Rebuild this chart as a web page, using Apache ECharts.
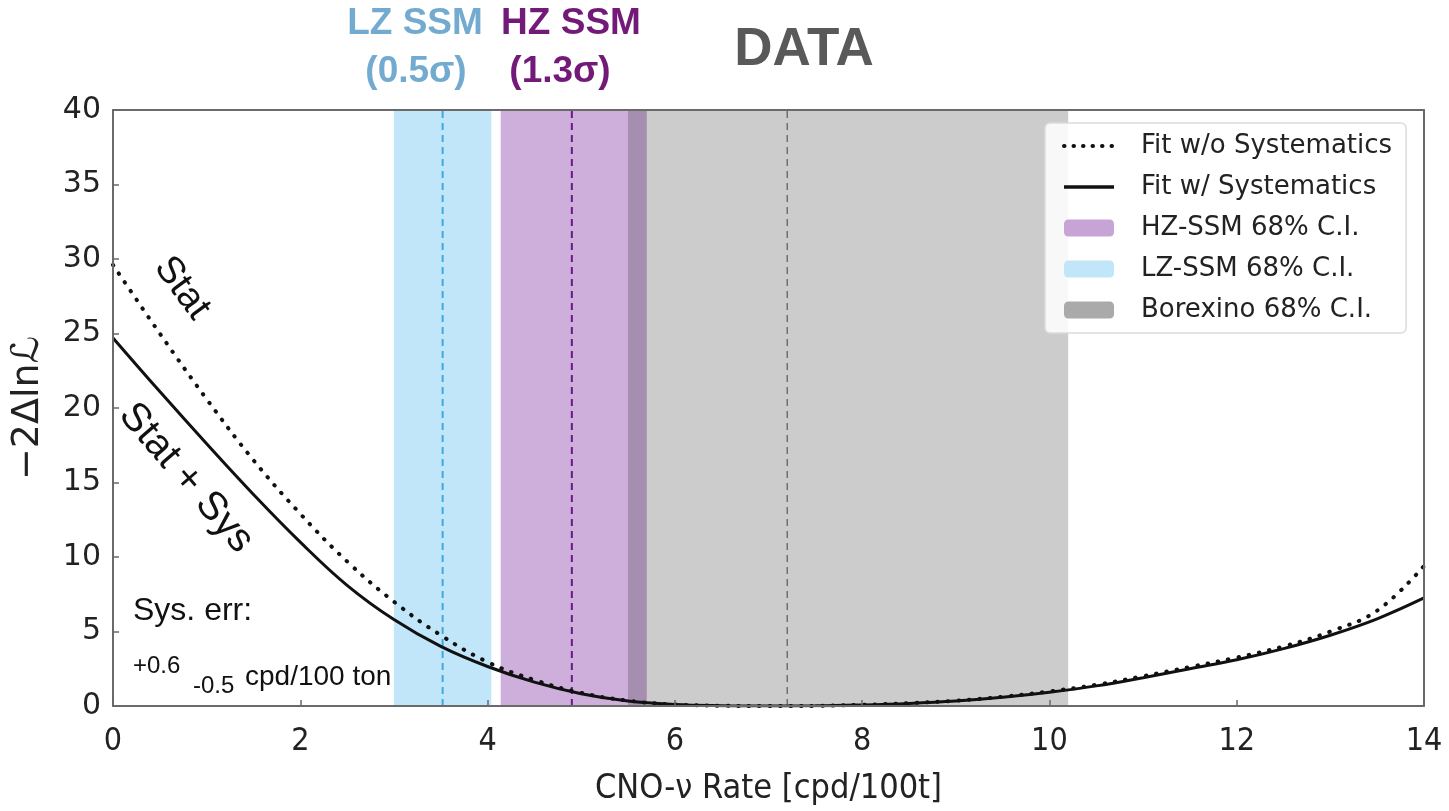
<!DOCTYPE html>
<html><head><meta charset="utf-8">
<script src="https://cdn.jsdelivr.net/npm/echarts@6/dist/echarts.min.js"></script>
<style>html,body{margin:0;padding:0;background:#fff}#c{width:1449px;height:811px}</style>
</head><body><div id="c"></div>
<script>
// ---- data ----
const rate = [0,0.5,1,1.5,2,2.5,3,3.5,4,4.5,5,5.5,6,6.5,7,7.5,8,8.5,9,9.5,10,10.5,11,11.5,12,12.5,13,13.5,14];
const fitNoSys   = [29.6,25.0,20.6,16.5,12.9,9.7,7.0,4.75,2.95,1.75,0.88,0.36,0.1,0.02,0,0.01,0.08,0.19,0.36,0.62,0.98,1.42,2.0,2.62,3.25,4.0,5.0,6.4,9.4];
const fitWithSys = [24.7,21.1,17.6,14.2,11.0,8.1,5.8,4.0,2.65,1.6,0.82,0.33,0.1,0.02,0,0.01,0.07,0.17,0.33,0.58,0.92,1.35,1.9,2.5,3.1,3.85,4.75,5.85,7.25];
const lzBand = [3.0, 4.04];
const hzBand = [4.14, 5.70];
const bxBand = [5.5, 10.2];
const lzCentral = 3.52;
const hzCentral = 4.9;
const bxCentral = 7.2;
const xTicks = [0, 14, 2];   // min, max, interval
const yTicks = [0, 40, 5];
const seriesNames = ['Fit w/o Systematics','Fit w/ Systematics','HZ-SSM 68% C.I.','LZ-SSM 68% C.I.','Borexino 68% C.I.'];

const chart = echarts.init(document.getElementById('c'), null, {renderer:'canvas'});

function bandSeries(name, band, color, z, legendColor){
  return {
    name, type:'custom', z, silent:true,
    itemStyle:{color: legendColor},
    encode:{x:[0,1], y:[2,3]},
    data:[[band[0], band[1], yTicks[0], yTicks[1]]],
    renderItem(params, api){
      const p0 = api.coord([api.value(0), api.value(3)]);
      const p1 = api.coord([api.value(1), api.value(2)]);
      return {type:'rect', shape:{x:p0[0], y:p0[1], width:p1[0]-p0[0], height:p1[1]-p0[1]}, style:{fill: color}};
    }
  };
}
function vline(x, color, width){
  return {type:'line', z:3, silent:true, symbol:'none', data:[[x, yTicks[0]],[x, yTicks[1]]],
    lineStyle:{color, width, type:[7,5]}};
}

const axisCol = '#6a6a6a';
const option = {
  animation:false,
  backgroundColor:'#fff',
  grid:{left:113, right:25, top:110, bottom:105},
  xAxis:[{
    type:'value', min:xTicks[0], max:xTicks[1], interval:xTicks[2], z:6,
    name:'CNO-\u03bd Rate [cpd/100t]', nameLocation:'middle', nameGap:66,
    nameTextStyle:{fontFamily:'DejaVu Sans Condensed', fontSize:34, color:'#222'},
    axisLine:{show:true, onZero:false, lineStyle:{color:axisCol, width:2}},
    axisTick:{show:true, inside:true, length:6, lineStyle:{color:axisCol, width:1.5}},
    axisLabel:{fontFamily:'DejaVu Sans Condensed', fontSize:32, color:'#222', margin:20},
    splitLine:{show:false}
  },{
    type:'value', position:'top', min:xTicks[0], max:xTicks[1], z:6,
    axisLine:{show:true, onZero:false, lineStyle:{color:axisCol, width:2}},
    axisTick:{show:false}, axisLabel:{show:false}, splitLine:{show:false}
  }],
  yAxis:[{
    type:'value', min:yTicks[0], max:yTicks[1], interval:yTicks[2], z:6,
    name:'\u22122\u0394ln\u2112', nameLocation:'middle', nameGap:66, nameRotate:90,
    nameTextStyle:{fontFamily:'DejaVu Sans', fontSize:38, color:'#222'},
    axisLine:{show:true, onZero:false, lineStyle:{color:axisCol, width:2}},
    axisTick:{show:true, inside:true, length:6, lineStyle:{color:axisCol, width:1.5}},
    axisLabel:{fontFamily:'DejaVu Sans', fontSize:30, color:'#222', margin:12},
    splitLine:{show:false}
  },{
    type:'value', position:'right', min:yTicks[0], max:yTicks[1], z:6,
    axisLine:{show:true, onZero:false, lineStyle:{color:axisCol, width:2}},
    axisTick:{show:false}, axisLabel:{show:false}, splitLine:{show:false}
  }],
  legend:{
    left:1045, top:123, orient:'vertical',
    data:[
      {name:seriesNames[0], itemStyle:{opacity:0}, lineStyle:{width:4, type:[0.5,9], cap:'round', color:'#111'}},
      {name:seriesNames[1], itemStyle:{opacity:0}, lineStyle:{width:3.5, color:'#111'}},
      seriesNames[2], seriesNames[3], seriesNames[4]
    ],
    itemWidth:50, itemHeight:17, itemGap:15,
    padding:[10,14,10,17],
    backgroundColor:'rgba(255,255,255,0.85)', borderColor:'#dcdcdc', borderWidth:1.5, borderRadius:5,
    textStyle:{fontFamily:'DejaVu Sans', fontSize:26, color:'#222', lineHeight:25, padding:[0,0,0,22]},
    selectedMode:false, z:10
  },
  series:[
    bandSeries(seriesNames[3], lzBand, '#c2e6f9', 1, '#c2e6f9'),
    bandSeries(seriesNames[2], hzBand, '#ceaedb', 1, '#c7a4d6'),
    bandSeries(seriesNames[4], bxBand, 'rgba(42,42,42,0.24)', 2, '#aaaaaa'),
    vline(lzCentral, '#3fa9df', 2),
    vline(hzCentral, '#6a1a86', 2),
    vline(bxCentral, '#707070', 1.5),
    {name:seriesNames[0], type:'line', z:4, symbol:'none', smooth:0.4, silent:true, color:'#111',
     itemStyle:{color:'#111', opacity:0},
     data: rate.map((x,i)=>[x, fitNoSys[i]]),
     lineStyle:{color:'#111', width:4, type:[0.5,10], cap:'round', opacity:1}},
    {name:seriesNames[1], type:'line', z:5, symbol:'none', smooth:0.4, silent:true, color:'#111',
     itemStyle:{color:'#111', opacity:0},
     data: rate.map((x,i)=>[x, fitWithSys[i]]),
     lineStyle:{color:'#111', width:3, opacity:1}}
  ],
  graphic:[
    {type:'text', x:415, y:24, style:{text:'LZ SSM', font:'bold 37px "Liberation Sans"', fill:'#72abcf', textAlign:'center', textVerticalAlign:'middle'}},
    {type:'text', x:416, y:72, style:{text:'(0.5\u03c3)', font:'bold 37px "Liberation Sans"', fill:'#72abcf', textAlign:'center', textVerticalAlign:'middle'}},
    {type:'text', x:571, y:24, style:{text:'HZ SSM', font:'bold 37px "Liberation Sans"', fill:'#731a78', textAlign:'center', textVerticalAlign:'middle'}},
    {type:'text', x:560, y:72, style:{text:'(1.3\u03c3)', font:'bold 37px "Liberation Sans"', fill:'#731a78', textAlign:'center', textVerticalAlign:'middle'}},
    {type:'text', x:804, y:50, style:{text:'DATA', font:'bold 53px "Liberation Sans"', fill:'#595959', textAlign:'center', textVerticalAlign:'middle'}},
    {type:'text', x:182, y:288, rotation:-0.93, style:{text:'Stat', font:'38px "Liberation Sans"', fill:'#111', textAlign:'center', textVerticalAlign:'middle'}},
    {type:'text', x:186, y:478, rotation:-0.86, style:{text:'Stat + Sys', font:'40px "Liberation Sans"', fill:'#111', textAlign:'center', textVerticalAlign:'middle'}},
    {type:'text', x:133, y:611, style:{text:'Sys. err:', font:'32px "Liberation Sans"', fill:'#111', textAlign:'left', textVerticalAlign:'middle'}},
    {type:'text', x:133, y:666, style:{text:'+0.6', font:'24px "Liberation Sans"', fill:'#111', textAlign:'left', textVerticalAlign:'middle'}},
    {type:'text', x:193, y:686, style:{text:'-0.5', font:'24px "Liberation Sans"', fill:'#111', textAlign:'left', textVerticalAlign:'middle'}},
    {type:'text', x:245, y:677, style:{text:'cpd/100 ton', font:'28px "Liberation Sans"', fill:'#111', textAlign:'left', textVerticalAlign:'middle'}}
  ]
};
chart.setOption(option);
</script>
</body></html>
